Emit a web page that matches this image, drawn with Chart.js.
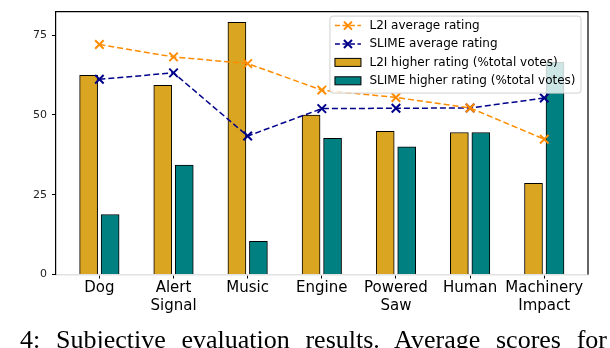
<!DOCTYPE html>
<html lang="en">
<head>
<meta charset="UTF-8">
<title>Subjective evaluation results</title>
<script src="https://cdn.jsdelivr.net/npm/chart.js"></script>
<style>
  body { margin: 0; background: #fff; }
  .wrap { position: relative; width: 610px; height: 348px; overflow: hidden; }
  .caption {
    position: absolute; left: 20px; top: 327px; width: 587px;
    font-family: 'Liberation Serif', serif; font-size: 26px; line-height: 26px;
    color: #000; text-align: justify; text-align-last: justify;
  }
</style>
</head>
<body>
<div class="wrap">
  <canvas id="chart"></canvas>
  <div class="caption">4: Subjective evaluation results. Average scores for</div>
</div>
<script>
// data
const categories = [['Dog'], ['Alert', 'Signal'], ['Music'], ['Engine'], ['Powered', 'Saw'], ['Human'], ['Machinery', 'Impact']];
const l2iAvg = [72.1, 68.2, 66.1, 57.8, 55.5, 52.2, 42.4];
const slimeAvg = [61.2, 63.2, 43.4, 52.0, 52.1, 52.2, 55.3];
const l2iHigher = [62.4, 59.3, 79.0, 50.0, 44.9, 44.5, 28.6];
const slimeHigher = [18.8, 34.3, 10.4, 42.7, 40.0, 44.5, 66.6];
const yTicks = [0, 25, 50, 75];

const barShift = 0.145;
const pts = (vals, dx) => vals.map((v, i) => ({ x: i + dx, y: v }));

Chart.defaults.font.family = 'DejaVu Sans';
Chart.defaults.color = '#000';

// top / right spines + legend inside the axes
const extras = {
  id: 'extras',
  afterDraw(chart) {
    const ctx = chart.ctx;
    const a = chart.chartArea;
    ctx.save();
    ctx.strokeStyle = '#000';
    ctx.lineWidth = 1.2;
    ctx.beginPath();
    ctx.moveTo(a.left, a.top);
    ctx.lineTo(a.right, a.top);
    ctx.lineTo(a.right, a.bottom);
    ctx.stroke();

    // legend
    ctx.font = '12px DejaVu Sans';
    const ds = chart.data.datasets;
    let tw = 0;
    ds.forEach(d => { tw = Math.max(tw, ctx.measureText(d.label).width); });
    const w = 39 + tw + 6, h = 77;
    const x0 = a.right - 7 - w, y0 = a.top + 4.5;
    ctx.beginPath();
    ctx.roundRect(x0, y0, w, h, 3);
    ctx.fillStyle = 'rgba(255,255,255,0.8)';
    ctx.fill();
    ctx.strokeStyle = '#d0d0d0';
    ctx.lineWidth = 1;
    ctx.stroke();

    ds.forEach((d, i) => {
      const cy = y0 + 9.5 + i * 18.4;
      if (d.type === 'line') {
        ctx.strokeStyle = d.borderColor;
        ctx.lineWidth = 1.5;
        ctx.setLineDash([5, 2.5]);
        ctx.beginPath();
        ctx.moveTo(x0 + 5, cy);
        ctx.lineTo(x0 + 31, cy);
        ctx.stroke();
        ctx.setLineDash([]);
        ctx.lineWidth = 2;
        const r = 4;
        const cx = x0 + 18;
        ctx.beginPath();
        ctx.moveTo(cx - r, cy - r); ctx.lineTo(cx + r, cy + r);
        ctx.moveTo(cx - r, cy + r); ctx.lineTo(cx + r, cy - r);
        ctx.stroke();
      } else {
        ctx.fillStyle = d.backgroundColor;
        ctx.fillRect(x0 + 5, cy - 4, 26, 8);
        ctx.strokeStyle = '#000';
        ctx.lineWidth = 1;
        ctx.strokeRect(x0 + 5, cy - 4, 26, 8);
      }
      ctx.fillStyle = '#000';
      ctx.textBaseline = 'middle';
      ctx.textAlign = 'left';
      ctx.fillText(d.label, x0 + 39.5, cy);
    });
    ctx.restore();
  }
};

new Chart(document.getElementById('chart'), {
  type: 'bar',
  data: {
    datasets: [
      {
        type: 'line',
        label: 'L2I average rating',
        data: pts(l2iAvg, 0),
        borderColor: '#ff8c00',
        backgroundColor: '#ff8c00',
        borderWidth: 1.5,
        borderDash: [6, 3],
        pointStyle: 'crossRot',
        pointRadius: 6,
        pointBorderWidth: 2,
        order: 0
      },
      {
        type: 'line',
        label: 'SLIME average rating',
        data: pts(slimeAvg, 0),
        borderColor: '#00008b',
        backgroundColor: '#00008b',
        borderWidth: 1.5,
        borderDash: [6, 3],
        pointStyle: 'crossRot',
        pointRadius: 6,
        pointBorderWidth: 2,
        order: 0
      },
      {
        label: 'L2I higher rating (%total votes)',
        data: pts(l2iHigher, -barShift),
        backgroundColor: '#daa520',
        borderColor: '#000',
        borderWidth: 1,
        barThickness: 18,
        grouped: false,
        order: 1
      },
      {
        label: 'SLIME higher rating (%total votes)',
        data: pts(slimeHigher, barShift),
        backgroundColor: '#008080',
        borderColor: '#000',
        borderWidth: 1,
        barThickness: 18,
        grouped: false,
        order: 1
      }
    ]
  },
  options: {
    responsive: true,
    maintainAspectRatio: false,
    animation: false,
    layout: { padding: { top: 1.5, right: 22, bottom: 0, left: 0 } },
    plugins: { legend: { display: false }, tooltip: { enabled: false } },
    scales: {
      x: {
        type: 'linear',
        offset: false,
        min: -0.585,
        max: 6.59,
        afterBuildTicks: s => { s.ticks = categories.map((c, i) => ({ value: i })); },
        afterFit: s => { s.height = 73.5; },
        ticks: {
          callback: v => categories[v],
          font: { size: 15, lineHeight: 1.2 },
          color: '#000',
          padding: 1,
          maxRotation: 0,
          autoSkip: false
        },
        grid: { offset: false, drawOnChartArea: false, color: '#000', tickLength: 4, tickWidth: 1 },
        border: { color: '#e2e2e2', width: 1.5 }
      },
      y: {
        min: 0,
        max: 82.4,
        afterBuildTicks: s => { s.ticks = yTicks.map(v => ({ value: v })); },
        afterFit: s => { s.width = 56; },
        ticks: { font: { size: 11 }, color: '#222', padding: 5 },
        grid: { drawOnChartArea: false, color: '#000', tickLength: 4, tickWidth: 1 },
        border: { color: '#000', width: 1.2 }
      }
    }
  },
  plugins: [extras]
});
</script>
</body>
</html>
